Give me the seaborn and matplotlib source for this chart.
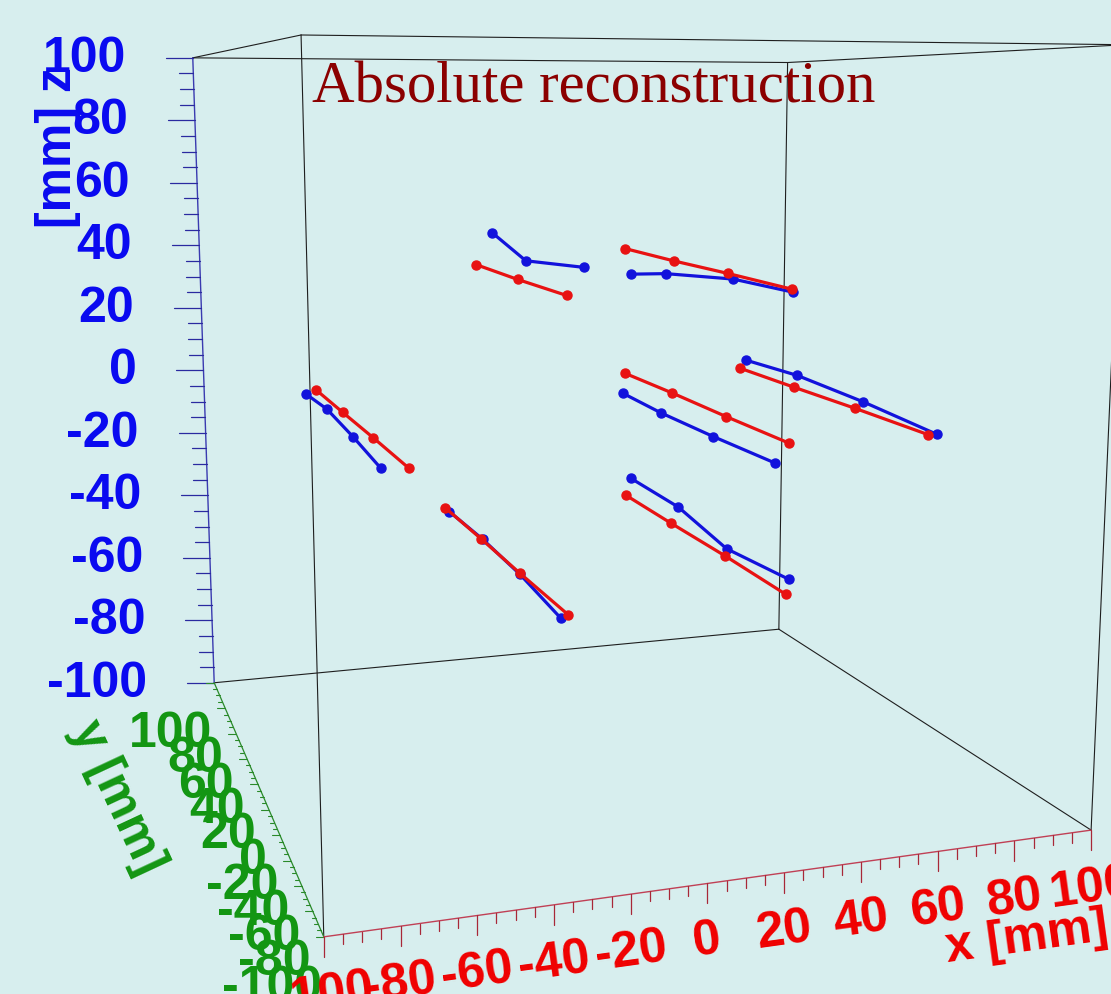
import numpy as np
import matplotlib
matplotlib.use("Agg")
import matplotlib.pyplot as plt
import seaborn as sns

sns.set_style("white")
plt.rcParams["font.family"] = ["Liberation Sans", "DejaVu Sans"]

# ---------------- data (mm) ----------------
# detector planes (y) at which every track has a hit
PLANES_Y = [60, 20, -20, -60]

# blue tracks: x and z of each hit, one list per track
BLUE_X = [[-74.4, -75.2, -75.5, -76.6],
          [-15.8, -16.7, -12.1],
          [29.4, 26.2, 31.2, 31.2],
          [26.7, 25.0, 25.7, 26.8],
          [69.1, 69.2, 71.7, 73.7],
          [-30.5, -30.4, -30.5, -31.3],
          [29.5, 30.7, 30.1, 31.4]]
BLUE_Z = [[-0.3, 1.2, -0.1, -1.0],
          [46.9, 41.4, 42.6],
          [32.9, 36.5, 38.2, 38.3],
          [-5.0, -5.1, -5.6, -5.9],
          [3.8, 4.2, 1.9, -1.0],
          [-39.6, -39.6, -40.6, -42.3],
          [-32.8, -34.2, -38.0, -37.3]]

# red tracks
RED_X = [[-71.3, -70.7, -70.2, -69.7],
         [-20.9, -19.2, -17.0],
         [27.5, 28.7, 29.6, 30.8],
         [27.6, 28.4, 29.6, 30.7],
         [66.9, 68.2, 69.3, 71.0],
         [-31.8, -30.9, -30.5, -29.3],
         [27.9, 28.2, 29.6, 30.6]]
RED_Z = [[0.8, 0.0, -0.6, -1.4],
         [37.2, 36.1, 35.2],
         [41.0, 40.2, 39.8, 39.1],
         [1.3, 0.8, -0.2, -0.9],
         [1.3, 0.6, 0.1, -0.9],
         [-38.3, -39.4, -40.3, -41.6],
         [-38.3, -38.9, -40.0, -41.3]]

AXIS_LIM = (-100, 100)
TICK_VALUES = list(range(-100, 101, 20))
MINOR_VALUES = list(range(-100, 101, 5))
TITLE = "Absolute reconstruction"
X_TITLE, Y_TITLE, Z_TITLE = "x [mm]", "y [mm]", "[mm] z"

# ---------------- style / layout ----------------
W, H, DPI = 1111, 995, 100
BG = "#d7eeee"
C_BLUE, C_RED, C_GREEN = "#0a0af0", "#f00000", "#139613"
TRACK_BLUE, TRACK_RED = sns.color_palette(["#1212dc", "#e81212"])
FS = 36

fig = plt.figure(figsize=(W / DPI, H / DPI), dpi=DPI, facecolor=BG)

side = 1184.5            # px, square 3D axes (camera crop)
cx, cy = 603.0, 411.5    # where the view centre lands (image px from top-left)
frac = 0.095 / 0.185
ax = fig.add_axes([(cx - frac * side) / W, (H - cy - frac * side) / H,
                   side / W, side / H], projection="3d", computed_zorder=False)
ax.set_facecolor("none")
ax.set_axis_off()
ax.set_xlim(*AXIS_LIM)
ax.set_ylim(*AXIS_LIM)
ax.set_zlim(*AXIS_LIM)
ax.set_box_aspect((1, 1, 1), zoom=1.0)
ax.view_init(elev=9.2, azim=-108.5, roll=0)
ax.set_proj_type("persp", focal_length=0.2938)

lo, hi = AXIS_LIM
edges = [
    ((hi, lo, lo), (hi, hi, lo)), ((hi, hi, lo), (lo, hi, lo)),
    ((lo, lo, hi), (hi, lo, hi)), ((hi, lo, hi), (hi, hi, hi)),
    ((hi, hi, hi), (lo, hi, hi)), ((lo, hi, hi), (lo, lo, hi)),
    ((lo, lo, lo), (lo, lo, hi)), ((hi, lo, lo), (hi, lo, hi)),
    ((hi, hi, lo), (hi, hi, hi)),
]
for p, q in edges:
    ax.plot([p[0], q[0]], [p[1], q[1]], [p[2], q[2]], color="#1e1e1e", lw=0.8, zorder=1)

for xs, zs in zip(BLUE_X, BLUE_Z):
    ax.plot(xs, PLANES_Y[:len(xs)], zs, color=TRACK_BLUE, lw=2.3, marker="o",
            ms=6.5, zorder=3)
for xs, zs in zip(RED_X, RED_Z):
    ax.plot(xs, PLANES_Y[:len(xs)], zs, color=TRACK_RED, lw=2.3, marker="o",
            ms=6.5, zorder=4)

fig.canvas.draw()
M = ax.get_proj()


def to_px(x, y, z):
    v = M @ np.array([x, y, z, 1.0])
    return np.asarray(ax.transData.transform((v[0] / v[3], v[1] / v[3])))


A = to_px(lo, lo, lo)
B = to_px(hi, lo, lo)
C = to_px(lo, hi, lo)
G = to_px(lo, hi, hi)

ov = fig.add_axes([0, 0, 1, 1], facecolor="none")
ov.set_xlim(0, W)
ov.set_ylim(0, H)
ov.set_axis_off()

lab = dict(fontsize=FS, fontweight="bold")

# z axis (blue), along back-left vertical edge, ticks spaced linearly on screen
ov.plot([C[0], G[0]], [C[1], G[1]], color="#3a3ab0", lw=1)
for v in MINOR_VALUES:
    p = C + (v - lo) / (hi - lo) * (G - C)
    L = 27 if v % 20 == 0 else 14
    ov.plot([p[0] - L, p[0]], [p[1], p[1]], color="#2a2aa0", lw=0.9)
for v in TICK_VALUES:
    p = C + (v - lo) / (hi - lo) * (G - C)
    ov.text(p[0] - 67, p[1], str(v), ha="right", va="center", color=C_BLUE, **lab)
ov.text(G[0] - 135, G[1] - 89, Z_TITLE, rotation=90, ha="center", va="center",
        color=C_BLUE, **lab)

# y axis (green), from back (y=100) to front (y=-100)
ov.plot([C[0], A[0]], [C[1], A[1]], color="#2a8a2a", lw=0.9)
for v in MINOR_VALUES:
    p = C + (hi - v) / (hi - lo) * (A - C)
    L = 8 if v % 20 == 0 else 4
    ov.plot([p[0] - L, p[0]], [p[1], p[1]], color="#2a8a2a", lw=0.8)
for v in TICK_VALUES:
    p = C + (hi - v) / (hi - lo) * (A - C)
    ov.text(p[0] - 2, p[1] - 50, str(v), ha="right", va="center", color=C_GREEN, **lab)
ov.text(C[0] - 97, C[1] - 114, Y_TITLE, rotation=-65, ha="center", va="center",
        rotation_mode="anchor", color=C_GREEN, **lab)

# x axis (red), along front-bottom edge
ang = np.degrees(np.arctan2(B[1] - A[1], B[0] - A[0]))
ov.plot([A[0], B[0]], [A[1], B[1]], color="#c04055", lw=1)
for v in MINOR_VALUES:
    p = A + (v - lo) / (hi - lo) * (B - A)
    L = 20 if v % 20 == 0 else 10
    ov.plot([p[0], p[0]], [p[1] - L, p[1]], color="#a82838", lw=0.9)
for v in TICK_VALUES:
    p = A + (v - lo) / (hi - lo) * (B - A)
    ov.text(p[0], p[1] - 57, str(v), ha="center", va="center", rotation=ang,
            rotation_mode="anchor", color=C_RED, **lab)
ov.text(B[0] - 64, B[1] - 107, X_TITLE, rotation=ang, ha="center", va="center",
        rotation_mode="anchor", color=C_RED, **lab)

ov.text(312, H - 103, TITLE, ha="left", va="baseline", fontsize=42.4,
        family=["Liberation Serif", "DejaVu Serif"], color="#8b0000")

fig.savefig("out.png", dpi=DPI, facecolor=BG)
